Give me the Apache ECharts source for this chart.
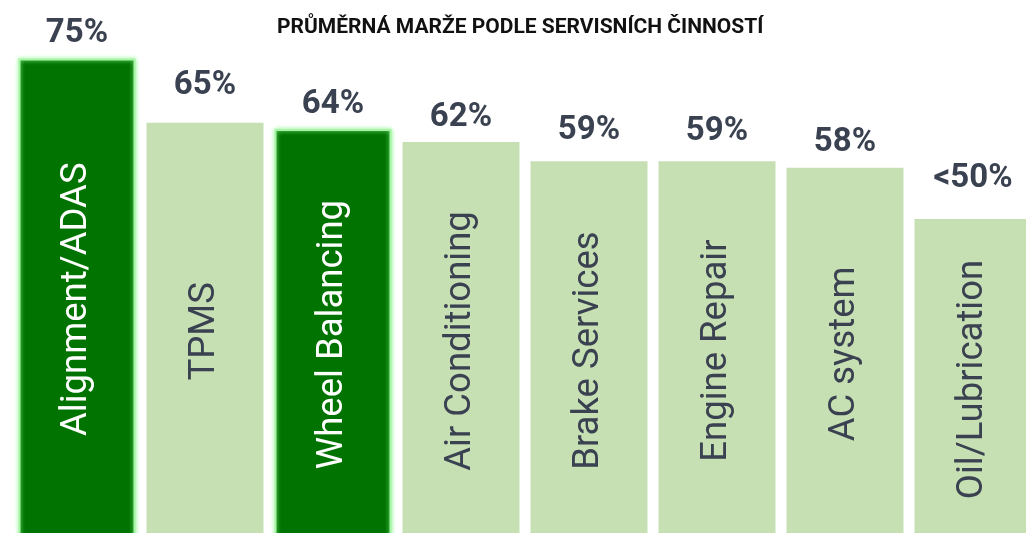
<!DOCTYPE html>
<html>
<head>
<meta charset="utf-8">
<script src="https://cdn.jsdelivr.net/npm/echarts@6/dist/echarts.min.js"></script>
<style>
html,body{margin:0;padding:0;background:#fff;}
#chart{width:1026px;height:533px;}
</style>
</head>
<body>
<div id="chart"></div>
<script>
const chartTitle = 'PRŮMĚRNÁ MARŽE PODLE SERVISNÍCH ČINNOSTÍ';
const categories = ['Alignment/ADAS', 'TPMS', 'Wheel Balancing', 'Air Conditioning', 'Brake Services', 'Engine Repair', 'AC system', 'Oil/Lubrication'];
const values = [75, 65, 64, 62, 59, 59, 58, 50];
const valueLabels = ['75%', '65%', '64%', '62%', '59%', '59%', '58%', '<50%'];
const highlighted = [true, false, true, false, false, false, false, false];

// styling (kept separate from data)
const labelLift = [0, 12, 0, 0, 6, 5, 0, 16];
const darkGreen = '#007300';
const lightGreen = '#c6e0b4';
const textDark = '#3a4150';

const chart = echarts.init(document.getElementById('chart'), null, {renderer: 'canvas'});

const barData = values.map((v, i) => ({
  value: v,
  itemStyle: highlighted[i] ? {
    color: darkGreen,
    borderColor: '#a8f5a8',
    borderWidth: 2,
    shadowBlur: 4,
    shadowColor: '#8cf58c'
  } : { color: lightGreen },
  label: {
    color: highlighted[i] ? '#ffffff' : textDark
  }
}));

const topLabelData = values.map((v, i) => ({
  value: v,
  label: { distance: 8 + labelLift[i] }
}));

chart.setOption({
  animation: false,
  title: {
    text: chartTitle,
    left: 272,
    top: 12,
    textStyle: {
      fontFamily: 'Roboto',
      fontWeight: 'bold',
      fontSize: 21,
      color: '#111111'
    }
  },
  grid: { left: 13, width: 1024, top: 26.4, bottom: -7, containLabel: false, outerBoundsMode: 'none' },
  xAxis: {
    type: 'category',
    data: categories,
    show: false
  },
  yAxis: {
    type: 'value',
    min: 0,
    max: 80,
    show: false
  },
  series: [
    {
      type: 'bar',
      data: barData,
      barWidth: 117,
      label: {
        show: true,
        position: 'inside',
        rotate: 90,
        align: 'center',
        verticalAlign: 'middle',
        fontFamily: 'Roboto',
        fontSize: 36.5,
        formatter: p => categories[p.dataIndex]
      },
      z: 2
    },
    {
      type: 'bar',
      data: topLabelData,
      barWidth: 117,
      barGap: '-100%',
      itemStyle: { color: 'rgba(0,0,0,0)' },
      silent: true,
      label: {
        show: true,
        position: 'top',
        fontFamily: 'Roboto',
        fontWeight: 'bold',
        fontSize: 33,
        color: textDark,
        formatter: p => valueLabels[p.dataIndex]
      },
      z: 3
    }
  ]
});
</script>
</body>
</html>
